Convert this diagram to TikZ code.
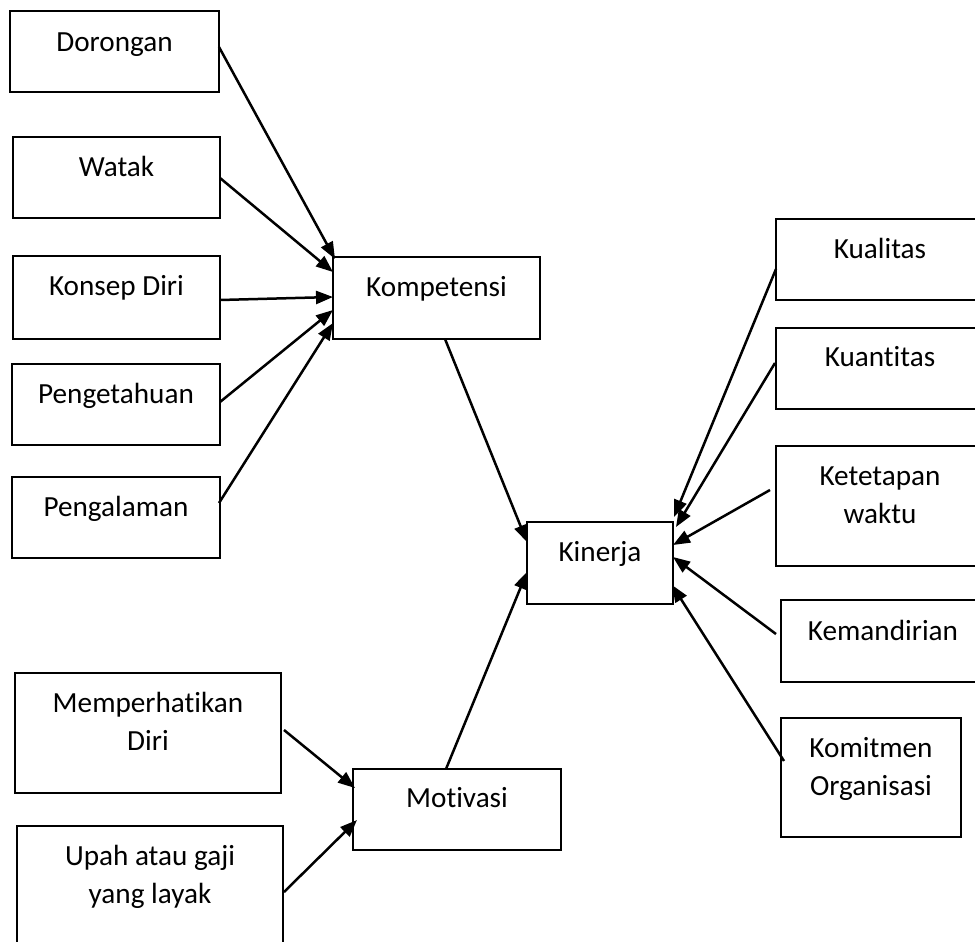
\documentclass[tikz,border=0pt]{standalone}
\usepackage{fontspec}
\setmainfont{Carlito}[Ligatures=NoCommon]
\usetikzlibrary{arrows.meta,calc}
\tikzset{
  box/.style={draw, line width=1pt, rectangle, inner sep=0pt, outer sep=0pt},
  lbl/.style={anchor=base, align=center, inner sep=0pt, font=\fontsize{14.6pt}{19pt}\selectfont},
  conn/.style={line width=1.25pt, -{Triangle[length=8.5pt,width=6.5pt]}}
}
\begin{document}
\begin{tikzpicture}[x=0.5pt,y=-0.5pt]
\useasboundingbox (0,0) rectangle (975,942);
% boxes
\node[box, minimum width=104.5pt, minimum height=40.5pt] (dor)  at (114.5,51.5) {};
\node[box, minimum width=103.5pt, minimum height=40.5pt] (wat)  at (116.5,177.5) {};
\node[box, minimum width=103.5pt, minimum height=41.5pt] (kon)  at (116.5,297.5) {};
\node[box, minimum width=104pt,   minimum height=40.5pt] (pen)  at (116,404.5) {};
\node[box, minimum width=104pt,   minimum height=40.5pt] (pga)  at (116,517.5) {};
\node[box, minimum width=103.5pt, minimum height=41pt]   (komp) at (436.5,298) {};
\node[box, minimum width=73pt,    minimum height=41pt]   (kin)  at (600,563) {};
\node[box, minimum width=104pt,   minimum height=40.5pt] (kual) at (880,259.5) {};
\node[box, minimum width=104pt,   minimum height=40.5pt] (kuan) at (880,368.5) {};
\node[box, minimum width=104pt,   minimum height=60pt]   (ket)  at (880,506) {};
\node[box, minimum width=102pt,   minimum height=41pt]   (kem)  at (883,641) {};
\node[box, minimum width=90pt,    minimum height=59.5pt] (kom)  at (871,777.5) {};
\node[box, minimum width=133pt,   minimum height=60pt]   (mem)  at (148,733) {};
\node[box, minimum width=133pt,   minimum height=60pt]   (upah) at (150,886) {};
\node[box, minimum width=104pt,   minimum height=40.5pt] (mot)  at (457,809.5) {};
% texts (base anchor = baseline of the last line)
\node[lbl] (dor-t)  at ($(dor.north)+(0,40)$)  {Dorongan};
\node[lbl] (wat-t)  at ($(wat.north)+(0,39)$)  {Watak};
\node[lbl] (kon-t)  at ($(kon.north)+(0,39)$)  {Konsep Diri};
\node[lbl] (pen-t)  at ($(pen.north)+(0,39)$)  {Pengetahuan};
\node[lbl] (pga-t)  at ($(pga.north)+(0,39)$)  {Pengalaman};
\node[lbl] (komp-t) at ($(komp.north)+(0,39)$) {Kompetensi};
\node[lbl] (kin-t)  at ($(kin.north)+(0,39)$)  {Kinerja};
\node[lbl] (kual-t) at ($(kual.north)+(0,39)$) {Kualitas};
\node[lbl] (kuan-t) at ($(kuan.north)+(0,38)$) {Kuantitas};
\node[lbl] (ket-t)  at ($(ket.north)+(0,77)$)  {Ketetapan\\waktu};
\node[lbl] (kem-t)  at ($(kem.north)+(0,40)$)  {Kemandirian};
\node[lbl] (kom-t)  at ($(kom.north)+(0,77)$)  {Komitmen\\Organisasi};
\node[lbl] (mem-t)  at ($(mem.north)+(0,77)$)  {Memperhatikan\\Diri};
\node[lbl] (upah-t) at ($(upah.north)+(0,77)$) {Upah atau gaji\\yang layak};
\node[lbl] (mot-t)  at ($(mot.north)+(0,38)$)  {Motivasi};
% connectors
\draw[conn] ($(dor.north east)+(0,36)$) -- ($(komp.north west)+(2,2)$);
\draw[conn] ($(wat.north east)+(0,41)$) -- ($(komp.north west)+(0,15)$);
\draw[conn] ($(kon.north east)+(0,44)$) -- ($(komp.north west)+(0,40)$);
\draw[conn] ($(pen.north east)+(0,38)$) -- ($(komp.north west)+(0,53)$);
\draw[conn] ($(pga.north east)+(-1,26)$) -- ($(komp.north west)+(0,66)$);
\draw[conn] ($(komp.south west)+(112,0)$) -- ($(kin.north west)+(0,20)$);
\draw[conn] ($(mot.north west)+(93,0)$) -- ($(kin.north west)+(0,50)$);
\draw[conn] ($(mem.north east)+(3,57)$) -- ($(mot.north west)+(2,19)$);
\draw[conn] ($(upah.north east)+(1,66)$) -- ($(mot.north west)+(4,51)$);
\draw[conn] ($(kual.north west)+(0,50)$) -- ($(kin.north east)+(1,-5)$);
\draw[conn] ($(kuan.north west)+(-1,35)$) -- ($(kin.north east)+(3,5)$);
\draw[conn] ($(ket.north west)+(-6,44)$) -- ($(kin.north east)+(0,23)$);
\draw[conn] ($(kem.north west)+(-5,34)$) -- ($(kin.north east)+(0,35)$);
\draw[conn] ($(kom.north west)+(3,43)$) -- ($(kin.north east)+(-1,63)$);
\end{tikzpicture}
\end{document}
